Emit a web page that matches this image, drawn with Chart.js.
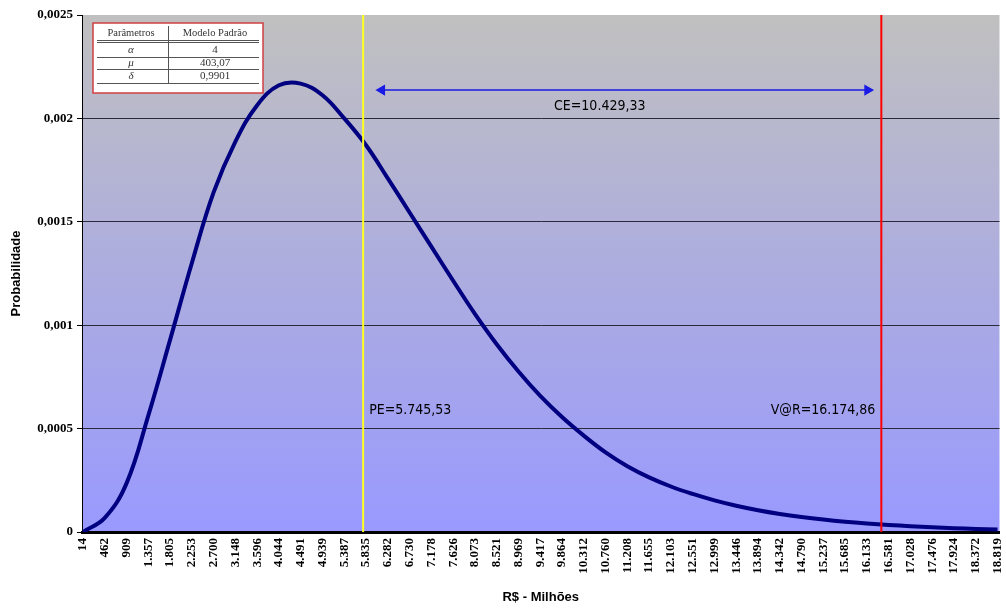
<!DOCTYPE html>
<html>
<head>
  <meta charset="utf-8">
  <title>Distribuição de perdas</title>
  <script src="https://cdn.jsdelivr.net/npm/chart.js"></script>
  <style>
    html, body { margin: 0; padding: 0; background: #ffffff; }
  </style>
</head>
<body>
<canvas id="grafico" width="1006" height="608"></canvas>
<script>
  // Eixo X: valores (R$ mil) e rótulos como aparecem no gráfico
  var xValores = [14, 462, 909, 1357, 1805, 2253, 2700, 3148, 3596, 4044, 4491, 4939, 5387, 5835,
    6282, 6730, 7178, 7626, 8073, 8521, 8969, 9417, 9864, 10312, 10760, 11208, 11655, 12103,
    12551, 12999, 13446, 13894, 14342, 14790, 15237, 15685, 16133, 16581, 17028, 17476, 17924,
    18372, 18819];
  var xRotulos = ['14', '462', '909', '1.357', '1.805', '2.253', '2.700', '3.148', '3.596', '4.044',
    '4.491', '4.939', '5.387', '5.835', '6.282', '6.730', '7.178', '7.626', '8.073', '8.521',
    '8.969', '9.417', '9.864', '10.312', '10.760', '11.208', '11.655', '12.103', '12.551',
    '12.999', '13.446', '13.894', '14.342', '14.790', '15.237', '15.685', '16.133', '16.581',
    '17.028', '17.476', '17.924', '18.372', '18.819'];

  // Probabilidade lida em cada rótulo do eixo X
  var probabilidade = [0, 0.000068, 0.000235, 0.000563, 0.000929, 0.001301, 0.001642, 0.001888,
    0.002064, 0.00216, 0.002168, 0.002112, 0.002, 0.00187, 0.00171, 0.001545, 0.00138,
    0.001215, 0.001055, 0.000908, 0.000776, 0.000658, 0.000556, 0.000466, 0.000385, 0.000318,
    0.000264, 0.00022, 0.000184, 0.000153, 0.000127, 0.0001055, 0.0000875, 0.0000725, 0.00006,
    0.0000495, 0.000041, 0.000034, 0.000028, 0.000023, 0.0000187, 0.000015, 0.000012];

  // Eixo Y
  var yValores = [0, 0.0005, 0.001, 0.0015, 0.002, 0.0025];
  var yRotulos = ['0', '0,0005', '0,001', '0,0015', '0,002', '0,0025'];

  // Linhas verticais (posição) e seta CE
  var linhaPE = 5775;
  var linhaVaR = 16430;
  var setaInicio = 6159;
  var setaFim = 16147;
  var setaY = 0.002137;

  // Textos das marcações
  var textoCE = 'CE=10.429,33';
  var textoPE = 'PE=5.745,53';
  var textoVaR = 'V@R=16.174,86';

  // Tabela de parâmetros
  var tabelaCabecalho = ['Parâmetros', 'Modelo Padrão'];
  var tabelaParametros = ['α', 'μ', 'δ'];
  var tabelaValores = ['4', '403,07', '0,9901'];

  var pontosCurva = [];
  for (var i = 0; i < xValores.length; i++) {
    pontosCurva.push({ x: xValores[i], y: probabilidade[i] });
  }

  // fundo com degradê cinza -> lilás
  var fundo = {
    id: 'fundo',
    beforeDraw: function(chart) {
      var a = chart.chartArea;
      var ctx = chart.ctx;
      var g = ctx.createLinearGradient(0, a.top, 0, a.bottom);
      g.addColorStop(0, '#c0c0c0');
      g.addColorStop(1, '#9999ff');
      ctx.save();
      ctx.fillStyle = g;
      ctx.fillRect(a.left, a.top, a.right - a.left, a.bottom - a.top);
      ctx.restore();
    }
  };

  // textos das marcações e tabela
  var marcacoes = {
    id: 'marcacoes',
    afterDraw: function(chart) {
      var ctx = chart.ctx;
      var sx = chart.scales.x, sy = chart.scales.y;
      ctx.save();
      ctx.fillStyle = '#000';
      ctx.font = '14px "Liberation Sans Narrow", "DejaVu Sans Condensed", sans-serif';
      ctx.textBaseline = 'middle';
      ctx.textAlign = 'center';
      ctx.fillText(textoCE, sx.getPixelForValue(10640), sy.getPixelForValue(0.00206));
      ctx.textAlign = 'left';
      ctx.fillText(textoPE, sx.getPixelForValue(linhaPE) + 6, sy.getPixelForValue(0.00059));
      ctx.textAlign = 'right';
      ctx.fillText(textoVaR, sx.getPixelForValue(linhaVaR) - 6, sy.getPixelForValue(0.00059));

      // tabela
      var x0 = 93, y0 = 23, x1 = 263, y1 = 93, xm = 168;
      ctx.fillStyle = '#fff';
      ctx.fillRect(x0, y0, x1 - x0, y1 - y0);
      ctx.strokeStyle = '#d04040';
      ctx.lineWidth = 1.5;
      ctx.strokeRect(x0, y0, x1 - x0, y1 - y0);
      ctx.strokeStyle = '#555';
      ctx.lineWidth = 1;
      var linhas = [40.5, 42.5, 57.5, 69.5, 83.5];
      linhas.forEach(function(ly) {
        ctx.beginPath(); ctx.moveTo(x0 + 4, ly); ctx.lineTo(x1 - 4, ly); ctx.stroke();
      });
      ctx.beginPath(); ctx.moveTo(xm + 0.5, 26); ctx.lineTo(xm + 0.5, 83.5); ctx.stroke();
      ctx.fillStyle = '#333';
      ctx.textAlign = 'center';
      ctx.font = '10.5px "Liberation Serif", "DejaVu Serif", serif';
      ctx.fillText(tabelaCabecalho[0], 131, 33);
      ctx.fillText(tabelaCabecalho[1], 215, 33);
      var ys = [50, 63, 76];
      for (var k = 0; k < 3; k++) {
        ctx.font = 'italic 11px "Liberation Serif", "DejaVu Serif", serif';
        ctx.fillText(tabelaParametros[k], 131, ys[k]);
        ctx.font = '11px "Liberation Serif", "DejaVu Serif", serif';
        ctx.fillText(tabelaValores[k], 215, ys[k]);
      }
      ctx.restore();
    }
  };

  var ctx = document.getElementById('grafico').getContext('2d');
  new Chart(ctx, {
    type: 'line',
    data: {
      datasets: [
        {
          label: 'PE',
          data: [{ x: linhaPE, y: 0 }, { x: linhaPE, y: 0.0025 }],
          borderColor: '#ffff20',
          borderWidth: 2,
          pointRadius: 0,
          order: 0
        },
        {
          label: 'VaR',
          data: [{ x: linhaVaR, y: 0 }, { x: linhaVaR, y: 0.0025 }],
          borderColor: '#ff0000',
          borderWidth: 2,
          pointRadius: 0,
          order: 0
        },
        {
          label: 'CE',
          data: [{ x: setaInicio, y: setaY }, { x: setaFim, y: setaY }],
          borderColor: '#1a1ae6',
          borderWidth: 1.5,
          pointStyle: 'triangle',
          pointRotation: [-90, 90],
          pointRadius: 5,
          pointBackgroundColor: '#1a1ae6',
          pointBorderColor: '#1a1ae6',
          order: 0
        },
        {
          label: 'Probabilidade',
          data: pontosCurva,
          borderColor: '#000080',
          borderWidth: 4,
          pointRadius: 0,
          tension: 0.4,
          order: 1
        }
      ]
    },
    options: {
      responsive: false,
      animation: false,
      layout: { padding: { top: 15, right: 6, left: 0, bottom: 0 } },
      plugins: {
        legend: { display: false },
        tooltip: { enabled: false }
      },
      scales: {
        x: {
          type: 'linear',
          min: -6,
          max: 18860,
          afterBuildTicks: function(scale) {
            scale.ticks = xValores.map(function(v) { return { value: v }; });
          },
          afterFit: function(scale) {
            scale.height = 76;
            scale.paddingLeft = 0;
            scale.paddingRight = 0;
          },
          grid: { display: false, drawTicks: false },
          border: { display: true, color: '#000', width: 3 },
          ticks: {
            autoSkip: false,
            minRotation: 90,
            maxRotation: 90,
            padding: 6,
            color: '#000',
            font: { family: '"Liberation Serif", serif', weight: 'bold', size: 13 },
            callback: function(value, index) { return xRotulos[index]; }
          },
          title: {
            display: true,
            text: 'R$ - Milhões',
            color: '#000',
            font: { family: '"Liberation Sans", Arial, sans-serif', weight: 'bold', size: 13 },
            padding: { top: 0, bottom: 3 }
          }
        },
        y: {
          min: 0,
          max: 0.0025,
          afterBuildTicks: function(scale) {
            scale.ticks = yValores.map(function(v) { return { value: v }; });
          },
          afterFit: function(scale) {
            scale.width = 82;
            scale.paddingTop = 0;
            scale.paddingBottom = 0;
          },
          grid: {
            color: function(c) {
              return (c.tick && c.tick.value === 0.0025) ? 'rgba(0,0,0,0)' : '#2a2a3a';
            },
            lineWidth: 1,
            tickLength: 5,
            tickColor: '#000'
          },
          border: { display: true, color: '#000', width: 1 },
          ticks: {
            padding: 4,
            color: '#000',
            font: { family: '"Liberation Serif", serif', weight: 'bold', size: 13 },
            callback: function(value, index) { return yRotulos[index]; }
          },
          title: {
            display: true,
            text: 'Probabilidade',
            color: '#000',
            font: { family: '"Liberation Sans", Arial, sans-serif', weight: 'bold', size: 13 },
            padding: { top: 9, bottom: 0 }
          }
        }
      }
    },
    plugins: [fundo, marcacoes]
  });
</script>
</body>
</html>
